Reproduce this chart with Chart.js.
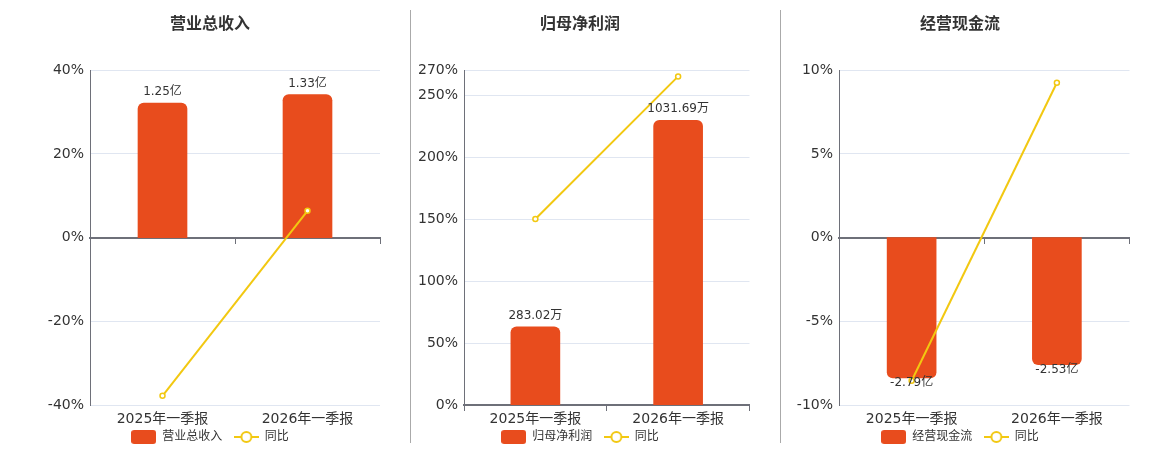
<!DOCTYPE html>
<html>
<head>
<meta charset="utf-8">
<script src="https://cdn.jsdelivr.net/npm/chart.js@4"></script>
<style>
  body { margin: 0; background: #fff; }
  #wrap { position: relative; width: 1160px; height: 450px; }
  .panel { position: absolute; top: 0; height: 450px; }
  .divider { position: absolute; top: 10px; width: 1px; height: 433px; background: #aaa; }
</style>
</head>
<body>
<div id="wrap">
  <div class="panel" style="left:40px;width:360px"><canvas id="c1"></canvas></div>
  <div class="divider" style="left:410px"></div>
  <div class="panel" style="left:410px;width:345px"><canvas id="c2"></canvas></div>
  <div class="divider" style="left:780px"></div>
  <div class="panel" style="left:790px;width:345px"><canvas id="c3"></canvas></div>
</div>
<script>
// data
const categories = ['2025年一季报', '2026年一季报'];

const revenue = [1.25, 1.33];          // 亿
const revenueYoy = [-37.8, 6.4];       // %
const revenueTicks = [-40, -20, 0, 20, 40];

const profit = [283.02, 1031.69];      // 万
const profitYoy = [150, 265];
const profitTicks = [0, 50, 100, 150, 200, 250, 270];

const cashflow = [-2.79, -2.53];       // 亿
const cashflowYoy = [-8.55, 9.25];
const cashflowTicks = [-10, -5, 0, 5, 10];

const barColor = '#E84C1D';
const lineColor = '#F2C811';
const axisColor = '#6E7079';
const gridColor = '#E0E6F1';

Chart.defaults.font.family = '"DejaVu Sans", "Noto Sans CJK SC", sans-serif';
Chart.defaults.color = '#333';

// legend icons
function barIcon() {
  const c = document.createElement('canvas');
  c.width = 25; c.height = 14;
  const g = c.getContext('2d');
  g.fillStyle = barColor;
  g.beginPath();
  g.roundRect(0, 0, 25, 14, 3);
  g.fill();
  return c;
}
function lineIcon() {
  const c = document.createElement('canvas');
  c.width = 25; c.height = 14;
  const g = c.getContext('2d');
  g.strokeStyle = lineColor;
  g.lineWidth = 2;
  g.beginPath(); g.moveTo(0, 7); g.lineTo(25, 7); g.stroke();
  g.fillStyle = '#fff';
  g.beginPath(); g.arc(12.5, 7, 5, 0, Math.PI * 2); g.fill(); g.stroke();
  return c;
}

// value labels on bars
const barLabels = {
  id: 'barLabels',
  afterDatasetsDraw(chart, args, opts) {
    const ctx = chart.ctx;
    const meta = chart.getDatasetMeta(1);
    const vals = chart.data.datasets[1].data;
    ctx.save();
    ctx.font = '12px ' + Chart.defaults.font.family;
    ctx.fillStyle = '#333';
    ctx.textAlign = 'center';
    ctx.textBaseline = 'middle';
    meta.data.forEach((el, i) => {
      const v = vals[i];
      const y = v >= 0 ? el.y - 11 : el.y + 5;
      ctx.fillText(v + opts.unit, el.x, y);
    });
    ctx.restore();
  }
};

function makeChart(id, title, barName, bars, yoy, ticks, barRange, unit, axisW, padRight) {
  new Chart(document.getElementById(id), {
    type: 'bar',
    data: {
      labels: categories,
      datasets: [
        {
          type: 'line', label: '同比', data: yoy, yAxisID: 'y', order: 0,
          borderColor: lineColor, borderWidth: 2,
          pointRadius: 2.5, pointBorderWidth: 1.5,
          pointBackgroundColor: '#fff', pointBorderColor: lineColor
        },
        {
          label: barName, data: bars, yAxisID: 'y1', order: 1,
          backgroundColor: barColor, barThickness: 49,
          borderRadius: 6, borderSkipped: 'start'
        }
      ]
    },
    options: {
      responsive: false,
      animation: false,
      layout: { padding: { left: 0, right: padRight, top: 0, bottom: -3 } },
      scales: {
        x: {
          grid: { display: false, drawTicks: false },
          border: { display: false },
          ticks: { font: { size: 14 }, color: '#333', padding: 6 },
          afterFit: s => { s.height = 22; }
        },
        x2: {
          type: 'category', labels: categories,
          position: { y: 0 }, offset: true,
          grid: { offset: true, drawOnChartArea: false, drawTicks: true, tickLength: 5, color: axisColor, lineWidth: 1 },
          border: { color: axisColor, width: 2 },
          ticks: { display: false }
        },
        y: {
          min: ticks[0], max: ticks[ticks.length - 1],
          afterBuildTicks: s => { s.ticks = ticks.map(v => ({ value: v })); },
          afterFit: s => { s.width = axisW; },
          grid: { color: gridColor, drawTicks: false },
          border: { color: axisColor, width: 1 },
          ticks: { font: { size: 14 }, color: '#333', padding: 6, callback: v => v + '%' }
        },
        y1: { display: false, min: barRange[0], max: barRange[1] }
      },
      plugins: {
        title: {
          display: true, text: title, color: '#333',
          font: { size: 16, weight: 'bold' },
          padding: { top: 15, bottom: 36 }
        },
        legend: {
          position: 'bottom',
          labels: {
            usePointStyle: true, pointStyleWidth: 25, boxHeight: 14,
            padding: 4, font: { size: 12 }, color: '#333',
            generateLabels: () => [
              { text: barName + '  ', pointStyle: barIcon(), datasetIndex: 1, fontColor: '#333', lineWidth: 0 },
              { text: '同比', pointStyle: lineIcon(), datasetIndex: 0, fontColor: '#333', lineWidth: 0 }
            ]
          }
        },
        tooltip: { enabled: false },
        barLabels: { unit: unit }
      }
    },
    plugins: [barLabels]
  });
}

function size(id, w) {
  const c = document.getElementById(id);
  c.width = w; c.height = 450;
  c.style.width = w + 'px'; c.style.height = '450px';
}
size('c1', 360); size('c2', 345); size('c3', 345);

makeChart('c1', '营业总收入', '营业总收入', revenue, revenueYoy, revenueTicks, [-1.556, 1.556], '亿', 50, 20);
makeChart('c2', '归母净利润', '归母净利润', profit, profitYoy, profitTicks, [0, 1213], '万', 54, 5);
makeChart('c3', '经营现金流', '经营现金流', cashflow, cashflowYoy, cashflowTicks, [-3.33, 3.33], '亿', 49, 5);
</script>
</body>
</html>
